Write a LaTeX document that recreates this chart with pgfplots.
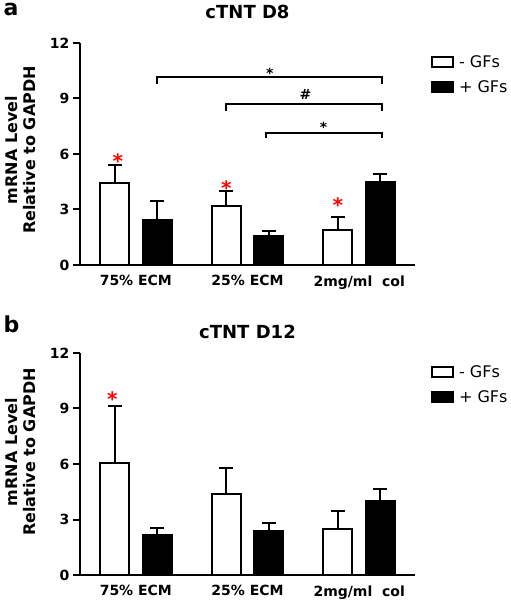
\documentclass[border=0pt]{standalone}
\usepackage{pgfplots}
\pgfplotsset{compat=1.18}
\usepackage{fontspec}
\setmainfont{DejaVu Sans}
\newcommand{\fs}[1]{\fontsize{#1}{#1}\selectfont}
\tikzset{rstar/.style={anchor=base, font=\bfseries\fs{20}, red, yshift=-9.5pt}}
\begin{document}
\begin{tikzpicture}[x=1pt,y=1pt]
\useasboundingbox (0,0) rectangle (511,600);
\pgfplotsset{
  panel/.style={
    scale only axis, width=335pt, height=222pt,
    xmin=-0.5, xmax=2.5, ymin=0, ymax=12,
    axis lines*=left, axis line style={line width=2pt},
    ytick={0,3,6,9,12},
    xtick={0,1,2}, xticklabels={75\% ECM, 25\% ECM, 2mg/ml\ \ col},
    major tick length=7pt,
    tick style={line width=2pt, black},
    xtick style={draw=none},
    tick align=outside,
    ticklabel style={font=\bfseries\fs{14}},
    /pgf/number format/assume math mode=true,
    clip=false,
    legend style={draw=none, fill=none, at={(axis description cs:1.048,0.955)}, anchor=north west, font=\fs{16}, row sep=8pt, inner sep=0pt},
    legend cell align=left,
  },
  wbar/.style={ybar, bar width=29pt, bar shift=0pt, fill=white, draw=black, line width=2pt,
     legend image code/.code={\filldraw[fill=white, draw=black, line width=1.8pt] (0pt,-5pt) rectangle (21pt,5pt);},
     error bars/.cd, y dir=plus, y explicit, error bar style={line width=2pt, black}, error mark options={rotate=90, mark size=7pt, line width=2pt, black}},
  bbar/.style={ybar, bar width=29pt, bar shift=0pt, fill=black, draw=black, line width=2pt,
     legend image code/.code={\filldraw[fill=black, draw=black, line width=1.8pt] (0pt,-5pt) rectangle (21pt,5pt);},
     error bars/.cd, y dir=plus, y explicit, error bar style={line width=2pt, black}, error mark options={rotate=90, mark size=7pt, line width=2pt, black}},
}
% labels
\node[anchor=base west, font=\bfseries\fs{22}] at (0,584) {a};
\node[anchor=base west, font=\bfseries\fs{22}] at (0,267) {b};
\node[anchor=base, font=\bfseries\fs{18}] at (247.5,581.7) {cTNT D8};
\node[anchor=base, font=\bfseries\fs{18}] at (247.5,261.7) {cTNT D12};
\node[rotate=90, font=\bfseries\fs{16}] at (11.5,450) {mRNA Level};
\node[rotate=90, font=\bfseries\fs{16}] at (29.5,450) {Relative to GAPDH};
\node[rotate=90, font=\bfseries\fs{16}] at (11.5,148) {mRNA Level};
\node[rotate=90, font=\bfseries\fs{16}] at (29.5,148) {Relative to GAPDH};

\begin{axis}[panel, at={(80pt,335pt)}, anchor=south west]
\addplot[wbar] table[x=x, y=y, y error=e] {
x y e
-0.19 4.42 0.96
0.81 3.19 0.81
1.81 1.89 0.73
};
\addlegendentry{\hspace{3pt}- GFs}
\addplot[bbar] table[x=x, y=y, y error=e] {
x y e
0.19 2.44 1.03
1.19 1.59 0.25
2.19 4.46 0.45
};
\addlegendentry{\hspace{3pt}+ GFs}
\draw[line width=2pt] (axis cs:0.19,9.8) |- (axis cs:2.2,10.16) -- (axis cs:2.2,9.8);
\draw[line width=2pt] (axis cs:0.81,8.35) |- (axis cs:2.2,8.7) -- (axis cs:2.2,8.35);
\draw[line width=2pt] (axis cs:1.17,6.85) |- (axis cs:2.2,7.16) -- (axis cs:2.2,6.85);
\node[anchor=base, font=\bfseries\fs{14}, yshift=-8.1pt] at (axis cs:1.2,10.52) {*};
\node[anchor=base, font=\bfseries\fs{14}, yshift=-5pt] at (axis cs:1.52,9.2) {\#};
\node[anchor=base, font=\bfseries\fs{14}, yshift=-8.1pt] at (axis cs:1.68,7.58) {*};
\node[rstar] at (axis cs:-0.16,5.72) {*};
\node[rstar] at (axis cs:0.81,4.29) {*};
\node[rstar] at (axis cs:1.81,3.34) {*};
\end{axis}

\begin{axis}[panel, at={(80pt,25pt)}, anchor=south west]
\addplot[wbar] table[x=x, y=y, y error=e] {
x y e
-0.19 6.07 3.08
0.81 4.36 1.41
1.81 2.49 0.99
};
\addlegendentry{\hspace{3pt}- GFs}
\addplot[bbar] table[x=x, y=y, y error=e] {
x y e
0.19 2.16 0.40
1.19 2.39 0.44
2.19 4.00 0.63
};
\addlegendentry{\hspace{3pt}+ GFs}
\node[rstar] at (axis cs:-0.21,9.64) {*};
\end{axis}
\end{tikzpicture}
\end{document}
